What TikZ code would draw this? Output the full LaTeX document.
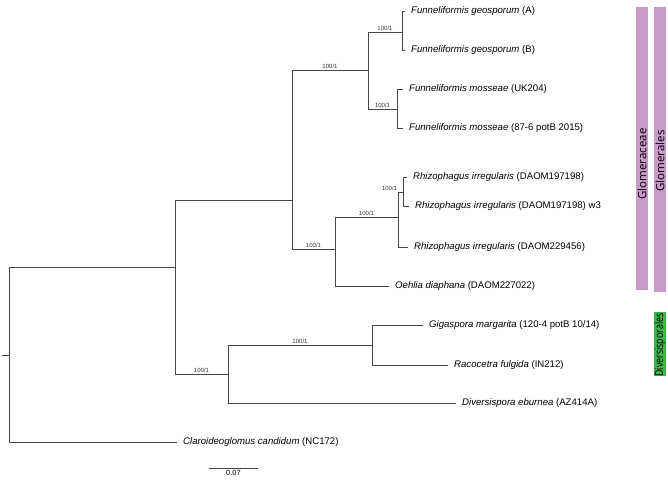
\documentclass[tikz,border=0pt]{standalone}
\usepackage{fontspec}
\setmainfont{Liberation Sans}
\newfontfamily\barfont{Open Sans}
\usepackage{tikz}
\usetikzlibrary{positioning}
\definecolor{glompurple}{HTML}{C89AC8}
\definecolor{divgreen}{HTML}{3DB54A}

\begin{document}
\begin{tikzpicture}[x=1pt,y=-1pt,
br/.style={draw=black!72, line width=0.8pt},
tip/.style={anchor=west, inner xsep=6pt, inner ysep=0pt, font=\fontsize{9.6}{10}\selectfont},
bs/.style={above, inner sep=1.2pt, text=black!80, font=\fontsize{6}{7}\selectfont},
bar/.style={minimum width=12pt, inner sep=0pt},
bartext/.style={rotate=90, inner sep=0pt, font=\barfont\fontsize{11.5}{12}\selectfont}]
\useasboundingbox (0,0) rectangle (668,486);
% inner nodes of the tree
\coordinate (stub) at (2,355);
\coordinate (root) at (9,355);
\coordinate (n1) at (175,267);
\coordinate (glom) at (292,200);
\coordinate (funn) at (368,70);
\coordinate (geo) at (402,32);
\coordinate (mos) at (397,109);
\coordinate (rhoe) at (335,249);
\coordinate (rhi) at (398,217);
\coordinate (rhiB) at (403,192);
\coordinate (div) at (228,374);
\coordinate (gira) at (372,345);
% tips
\node[tip] (geoA) at (405,11) {\textit{Funneliformis geosporum} (A)};
\node[tip] (geoB) at (405,50) {\textit{Funneliformis geosporum} (B)};
\node[tip] (mosUK) at (403,89) {\textit{Funneliformis mosseae} (UK204)};
\node[tip] (mosPB) at (403,128) {\textit{Funneliformis mosseae} (87-6 potB 2015)};
\node[tip] (rhiA) at (407,177) {\textit{Rhizophagus irregularis} (DAOM197198)};
\node[tip] (rhiW) at (409,206) {\textit{Rhizophagus irregularis} (DAOM197198) w3};
\node[tip] (rhiC) at (408,247) {\textit{Rhizophagus irregularis} (DAOM229456)};
\node[tip] (oeh) at (389,286) {\textit{Oehlia diaphana} (DAOM227022)};
\node[tip] (giga) at (423,325) {\textit{Gigaspora margarita} (120-4 potB 10/14)};
\node[tip] (raco) at (448,365) {\textit{Racocetra fulgida} (IN212)};
\node[tip] (dive) at (456,403) {\textit{Diversispora eburnea} (AZ414A)};
\node[tip] (clar) at (177,442) {\textit{Claroideoglomus candidum} (NC172)};
% branches
\draw[br] (stub) -- (root);
\draw[br] (root) |- (n1);
\draw[br] (root) |- (clar.west);
\draw[br] (n1) |- (glom);
\draw[br] (n1) |- node[bs,pos=0.75]{100/1} (div);
\draw[br] (glom) |- node[bs,pos=0.75]{100/1} (funn);
\draw[br] (glom) |- node[bs,pos=0.75]{100/1} (rhoe);
\draw[br] (funn) |- node[bs,pos=0.75]{100/1} (geo);
\draw[br] (funn) |- node[bs,pos=0.75]{100/1} (mos);
\draw[br] (geo) |- (geoA.west);
\draw[br] (geo) |- (geoB.west);
\draw[br] (mos) |- (mosUK.west);
\draw[br] (mos) |- (mosPB.west);
\draw[br] (rhoe) |- node[bs,pos=0.75]{100/1} (rhi);
\draw[br] (rhoe) |- (oeh.west);
\draw[br] (rhi) |- node[bs,pos=0.75,xshift=-11pt]{100/1} (rhiB);
\draw[br] (rhi) |- (rhiC.west);
\draw[br] (rhiB) |- (rhiA.west);
\draw[br] (rhiB) |- (rhiW.west);
\draw[br] (div) |- node[bs,pos=0.75]{100/1} (gira);
\draw[br] (div) |- (dive.west);
\draw[br] (gira) |- (giga.west);
\draw[br] (gira) |- (raco.west);
% scale bar
\coordinate (sbL) at (209,468);
\coordinate (sbR) at (258,468);
\draw[br] (sbL) -- node[below=1pt, inner sep=1pt, font=\fontsize{7.5}{8}\selectfont] (sbLab) {0.07} (sbR);
% clade bars
\node[bar, fill=glompurple, minimum height=283pt] (famBar) at (642,148.5) {};
\node[bartext] (famText) at (642,164) {Glomeraceae};
\node[bar, fill=glompurple, minimum height=285pt] (ordBar) at (660,149.5) {};
\node[bartext] (ordText) at (660,161) {Glomerales};
\node[bar, fill=divgreen, minimum height=64pt] (divBar) at (660,344) {};
\node[bartext] (divText) at (660,345) {\scalebox{0.77}[1]{Diversisporales}};
\end{tikzpicture}
\end{document}
